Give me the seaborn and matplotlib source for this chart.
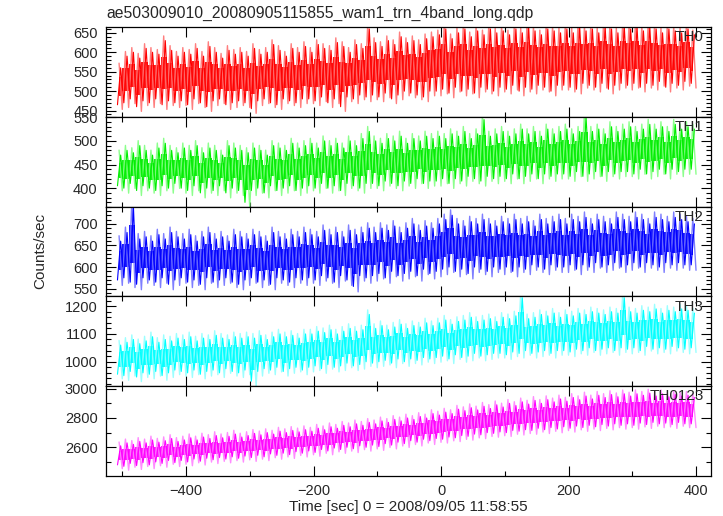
import matplotlib
matplotlib.use("Agg")
import matplotlib.pyplot as plt
from matplotlib.ticker import MultipleLocator
import seaborn as sns
import pandas as pd
import numpy as np

# segment centres (sec), 10 s wide, from the reference light curve
time_sec = np.arange(-505, 400, 10)

# local extent of the dark strokes in each 10 s segment
th0_lo = [465, 470, 480, 460, 475, 470, 480, 465, 475, 470,
          475, 465, 480, 470, 460, 475, 480, 465, 470, 475,
          470, 455, 475, 480, 470, 465, 480, 475, 470, 480,
          480, 475, 485, 470, 480, 460, 485, 480, 490, 485,
          490, 485, 495, 480, 490, 500, 495, 490, 485, 500,
          500, 505, 495, 510, 500, 505, 495, 510, 505, 500,
          510, 505, 515, 500, 510, 505, 515, 510, 500, 515,
          515, 510, 505, 520, 515, 510, 520, 505, 515, 520,
          515, 520, 510, 520, 515, 525, 510, 520, 515, 525, 520]
th0_hi = [560, 590, 600, 585, 610, 600, 595, 630, 605, 590,
          600, 595, 610, 590, 615, 600, 585, 605, 595, 600,
          590, 610, 595, 600, 620, 605, 590, 610, 600, 615,
          600, 620, 610, 605, 625, 615, 600, 620, 610, 660,
          625, 615, 630, 620, 640, 625, 630, 620, 635, 640,
          645, 660, 635, 650, 660, 640, 655, 645, 660, 650,
          655, 645, 660, 650, 665, 655, 645, 660, 655, 650,
          660, 650, 665, 655, 660, 650, 665, 660, 650, 665,
          660, 665, 655, 665, 660, 650, 660, 655, 650, 660, 645]

th1_lo = [405, 400, 410, 395, 405, 400, 395, 405, 400, 410,
          400, 395, 405, 390, 400, 395, 405, 390, 400, 395,
          370, 395, 400, 390, 405, 395, 400, 405, 395, 400,
          405, 400, 410, 400, 405, 395, 410, 405, 400, 410,
          410, 405, 415, 410, 405, 415, 410, 420, 410, 415,
          415, 420, 410, 420, 415, 425, 420, 415, 425, 420,
          425, 420, 430, 420, 425, 430, 420, 430, 425, 430,
          430, 425, 435, 425, 430, 435, 425, 435, 430, 435,
          435, 430, 440, 430, 435, 440, 430, 440, 435, 440, 440]
th1_hi = [470, 480, 475, 490, 480, 470, 485, 495, 480, 475,
          485, 480, 490, 475, 485, 480, 470, 490, 485, 480,
          475, 485, 480, 470, 490, 485, 480, 495, 485, 490,
          495, 485, 500, 490, 495, 485, 500, 490, 505, 520,
          500, 495, 505, 500, 510, 495, 505, 500, 510, 505,
          510, 505, 515, 510, 520, 505, 515, 545, 510, 515,
          520, 510, 515, 525, 515, 520, 510, 525, 515, 520,
          525, 515, 520, 550, 520, 525, 515, 530, 520, 525,
          530, 520, 525, 535, 525, 530, 520, 535, 525, 530, 525]

th2_lo = [570, 575, 565, 560, 575, 570, 565, 575, 560, 570,
          575, 565, 570, 560, 575, 565, 570, 575, 565, 560,
          570, 575, 565, 570, 560, 575, 570, 565, 575, 570,
          575, 570, 580, 575, 565, 580, 570, 555, 580, 575,
          580, 585, 575, 590, 580, 585, 590, 580, 595, 585,
          590, 595, 600, 590, 595, 585, 600, 595, 590, 600,
          595, 600, 590, 600, 595, 605, 600, 595, 605, 600,
          600, 605, 595, 605, 600, 610, 600, 605, 610, 600,
          605, 610, 600, 610, 605, 600, 610, 605, 610, 605, 605]
th2_hi = [660, 680, 740, 665, 670, 660, 675, 665, 680, 670,
          665, 675, 660, 670, 680, 665, 670, 660, 675, 670,
          665, 675, 670, 660, 680, 670, 665, 675, 670, 680,
          675, 670, 685, 675, 680, 670, 685, 675, 680, 690,
          680, 690, 685, 695, 680, 690, 700, 685, 695, 690,
          700, 710, 720, 700, 695, 705, 700, 710, 700, 695,
          705, 700, 710, 700, 705, 695, 710, 700, 705, 710,
          700, 710, 705, 715, 700, 710, 705, 700, 715, 710,
          705, 715, 710, 700, 715, 710, 705, 715, 710, 705, 700]

th3_lo = [955, 950, 965, 945, 960, 955, 965, 950, 960, 970,
          965, 960, 970, 955, 965, 970, 960, 975, 965, 960,
          970, 930, 965, 975, 970, 980, 965, 975, 980, 970,
          980, 985, 975, 990, 980, 985, 995, 985, 990, 1000,
          995, 1000, 1005, 995, 1010, 1000, 1010, 1005, 1015, 1010,
          1015, 1020, 1010, 1025, 1015, 1020, 1030, 1020, 1025, 1030,
          1030, 1025, 1035, 1030, 1040, 1030, 1035, 1040, 1030, 1040,
          1040, 1035, 1045, 1040, 1050, 1040, 1045, 1050, 1040, 1050,
          1045, 1050, 1040, 1055, 1045, 1050, 1045, 1055, 1050, 1045, 1050]
th3_hi = [1060, 1070, 1080, 1065, 1075, 1090, 1070, 1080, 1075, 1085,
          1080, 1090, 1075, 1085, 1080, 1095, 1085, 1080, 1090, 1085,
          1090, 1085, 1095, 1080, 1090, 1100, 1090, 1095, 1085, 1100,
          1100, 1110, 1105, 1115, 1100, 1110, 1120, 1110, 1115, 1170,
          1120, 1130, 1115, 1125, 1135, 1120, 1130, 1125, 1140, 1130,
          1140, 1150, 1135, 1145, 1150, 1160, 1145, 1150, 1155, 1145,
          1160, 1155, 1165, 1230, 1155, 1160, 1170, 1165, 1175, 1160,
          1170, 1165, 1175, 1170, 1180, 1175, 1170, 1180, 1175, 1230,
          1180, 1175, 1185, 1180, 1190, 1175, 1185, 1180, 1190, 1185, 1175]

th0123_lo = [2480, 2470, 2490, 2475, 2495, 2480, 2500, 2490, 2510, 2495,
             2510, 2500, 2520, 2505, 2525, 2515, 2530, 2520, 2535, 2525,
             2540, 2530, 2545, 2535, 2555, 2545, 2560, 2550, 2570, 2560,
             2575, 2565, 2585, 2575, 2595, 2585, 2600, 2590, 2610, 2600,
             2615, 2605, 2625, 2615, 2635, 2625, 2645, 2635, 2655, 2645,
             2660, 2655, 2670, 2665, 2680, 2675, 2690, 2685, 2700, 2695,
             2705, 2700, 2715, 2710, 2720, 2715, 2730, 2720, 2735, 2725,
             2740, 2730, 2745, 2735, 2750, 2740, 2755, 2745, 2760, 2750,
             2760, 2750, 2765, 2755, 2770, 2760, 2765, 2755, 2770, 2760, 2760]
th0123_hi = [2610, 2630, 2620, 2640, 2630, 2650, 2635, 2645, 2660, 2640,
             2650, 2665, 2650, 2670, 2660, 2680, 2665, 2675, 2690, 2670,
             2680, 2695, 2685, 2700, 2690, 2710, 2700, 2715, 2705, 2720,
             2710, 2730, 2720, 2740, 2730, 2750, 2740, 2760, 2750, 2770,
             2760, 2780, 2770, 2790, 2780, 2800, 2790, 2810, 2800, 2830,
             2820, 2840, 2830, 2860, 2850, 2870, 2855, 2880, 2865, 2890,
             2875, 2900, 2885, 2910, 2895, 2920, 2900, 2925, 2910, 2930,
             2915, 2940, 2925, 2950, 2930, 2955, 2940, 2960, 2945, 2965,
             2950, 2965, 2955, 2970, 2950, 2965, 2945, 2960, 2950, 2955, 2940]

# typical 1-sigma error bar per band (counts/sec)
band_err = [24, 21, 25, 33, 52]

band_names = ['TH0', 'TH1', 'TH2', 'TH3', 'TH0123']
band_colors = ['#ff0000', '#00ee00', '#0000ff', '#00ffff', '#ff00ff']
band_light = ['#ff7070', '#80ff80', '#7070ff', '#90ffff', '#ff80ff']
band_lo = [th0_lo, th1_lo, th2_lo, th3_lo, th0123_lo]
band_hi = [th0_hi, th1_hi, th2_hi, th3_hi, th0123_hi]
y_limits = [(434, 665), (361, 551), (532, 740), (912, 1235), (2404, 3017)]
y_major = [50, 50, 50, 100, 200]
y_minor = [10, 10, 10, 20, 100]

sns.set_style("ticks")
plt.rcParams['font.family'] = ['Liberation Sans', 'DejaVu Sans']

fig = plt.figure(figsize=(7.23, 5.16), dpi=100)
gs = fig.add_gridspec(5, 1, left=106 / 723, right=711 / 723,
                      top=1 - 27 / 516, bottom=1 - 476 / 516, hspace=0)

for k in range(5):
    ax = fig.add_subplot(gs[k])
    lo = np.array(band_lo[k])
    hi = np.array(band_hi[k])
    err = band_err[k]

    # error bars (lighter), shifted half a segment
    df_err = pd.DataFrame({
        'time': np.column_stack([time_sec, time_sec + 5]).ravel(),
        'rate': np.column_stack([hi + err * 0.5, lo - err * 0.5]).ravel(),
    })
    sns.lineplot(data=df_err, x='time', y='rate', sort=False, estimator=None,
                 ax=ax, color=band_light[k], lw=1.0, alpha=0.9)

    # dense core of the light curve
    core_lo = lo + (hi - lo) * 0.25
    core_hi = hi - (hi - lo) * 0.25
    ax.fill_between(time_sec, core_lo, core_hi, step='mid',
                    color=band_colors[k], lw=0, alpha=0.9)

    # zigzag through the segment extents: down-stroke, up-stroke per segment
    df = pd.DataFrame({
        'time': np.column_stack([time_sec - 2.5, time_sec + 2.5]).ravel(),
        'rate': np.column_stack([lo, hi]).ravel(),
    })
    sns.lineplot(data=df, x='time', y='rate', sort=False, estimator=None,
                 ax=ax, color=band_colors[k], lw=0.8)

    ax.set_xlim(-525.5, 423.5)
    ax.set_ylim(*y_limits[k])
    ax.xaxis.set_major_locator(MultipleLocator(200))
    ax.xaxis.set_minor_locator(MultipleLocator(100))
    ax.yaxis.set_major_locator(MultipleLocator(y_major[k]))
    ax.yaxis.set_minor_locator(MultipleLocator(y_minor[k]))
    ax.tick_params(which='both', direction='in', top=True, right=True,
                   color='black', width=0.8)
    ax.tick_params(which='major', length=7, labelsize=10.5, pad=6)
    ax.tick_params(which='minor', length=3.5)
    for sp in ax.spines.values():
        sp.set_color('black')
        sp.set_linewidth(0.9)
    ax.set_xlabel('')
    ax.set_ylabel('')
    if k < 4:
        ax.tick_params(labelbottom=False)
    ax.text(0.988, 0.965, band_names[k], transform=ax.transAxes,
            ha='right', va='top', fontsize=11)

fig.text(106 / 723, 1 - 13 / 516, 'ae503009010_20080905115855_wam1_trn_4band_long.qdp',
         ha='left', va='center', fontsize=11.3)
fig.text(40 / 723, 1 - 251 / 516, 'Counts/sec', rotation=90,
         ha='center', va='center', fontsize=11)
fig.text(408 / 723, 1 - 507 / 516, 'Time [sec] 0 = 2008/09/05 11:58:55',
         ha='center', va='center', fontsize=11)

fig.savefig('out.png', dpi=100)
